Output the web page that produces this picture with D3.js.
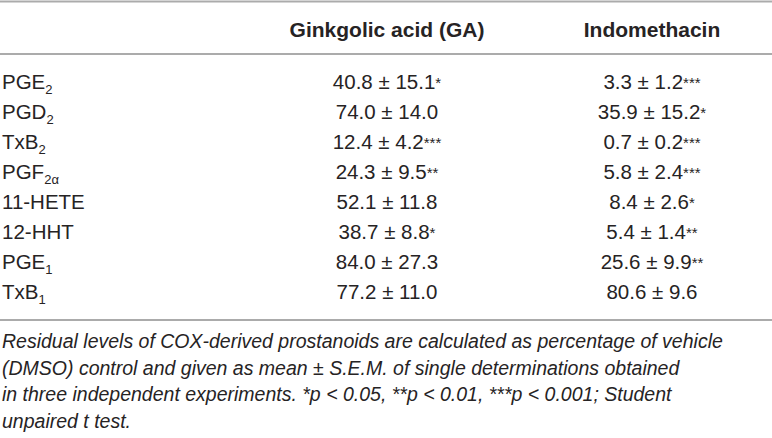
<!DOCTYPE html>
<html>
<head>
<meta charset="utf-8">
<script src="https://cdn.jsdelivr.net/npm/d3@7"></script>
<style>
  body { margin: 0; background: #fff; }
  svg text { font-family: "Liberation Sans", Arial, sans-serif; fill: #262324; }
</style>
</head>
<body>
<div id="table"></div>
<script>
// table content
let headers = ["Ginkgolic acid (GA)", "Indomethacin"];
let analytes = ["PGE", "PGD", "TxB", "PGF", "11-HETE", "12-HHT", "PGE", "TxB"];
let analyteSub = ["2", "2", "2", "2α", "", "", "1", "1"];

let gaMean = ["40.8", "74.0", "12.4", "24.3", "52.1", "38.7", "84.0", "77.2"];
let gaSem = ["15.1", "14.0", "4.2", "9.5", "11.8", "8.8", "27.3", "11.0"];
let gaSig = ["*", "", "***", "**", "", "*", "", ""];

let indoMean = ["3.3", "35.9", "0.7", "5.8", "8.4", "5.4", "25.6", "80.6"];
let indoSem = ["1.2", "15.2", "0.2", "2.4", "2.6", "1.4", "9.9", "9.6"];
let indoSig = ["***", "*", "***", "***", "*", "**", "**", ""];

let footnote = [
    "Residual levels of COX-derived prostanoids are calculated as percentage of vehicle",
    "(DMSO) control and given as mean ± S.E.M. of single determinations obtained",
    "in three independent experiments. *p < 0.05, **p < 0.01, ***p < 0.001; Student",
    "unpaired t test."
];

let width = 772, height = 438;

let svg = d3.select("#table").append("svg")
    .attr("width", width)
    .attr("height", height);

// column positions (label column left aligned, value columns centered)
let colX = d3.scalePoint()
    .domain(headers)
    .range([387, 652]);

let rowY = d3.scaleBand()
    .domain(d3.range(analytes.length))
    .range([67, 307]);

let footY = d3.scalePoint()
    .domain(d3.range(footnote.length))
    .range([348, 428]);

let ruleColor = "#ababab";

// horizontal rules
[1.5, 54, 320].forEach(y =>
    svg.append("line")
    .attr("x1", 0)
    .attr("x2", width)
    .attr("y1", y)
    .attr("y2", y)
    .attr("stroke", ruleColor)
    .attr("stroke-width", 2)
);

// header
svg.selectAll(".header")
    .data(headers)
    .join("text")
    .attr("class", "header")
    .attr("x", d => colX(d))
    .attr("y", 37)
    .attr("text-anchor", "middle")
    .attr("font-size", 21)
    .attr("font-weight", "bold")
    .text(d => d);

// row labels with subscripts
let labels = svg.selectAll(".label")
    .data(analytes)
    .join("text")
    .attr("class", "label")
    .attr("x", 2)
    .attr("y", (d, i) => rowY(i) + rowY.bandwidth() / 2 + 7)
    .attr("font-size", 20.5);

labels.append("tspan").text(d => d);
labels.append("tspan")
    .attr("font-size", 13)
    .attr("dy", 5)
    .text((d, i) => analyteSub[i]);

// value cells
function drawColumn(col, mean, sem, sig) {
    let cls = "cell-" + col.replace(/\W/g, "");
    let cells = svg.selectAll("." + cls)
        .data(mean)
        .join("text")
        .attr("class", cls)
        .attr("x", colX(col))
        .attr("y", (d, i) => rowY(i) + rowY.bandwidth() / 2 + 7)
        .attr("text-anchor", "middle")
        .attr("font-size", 20.5);

    cells.append("tspan").text((d, i) => d + " ± " + sem[i]);
    cells.append("tspan")
        .attr("font-size", 15)
        .attr("dy", -1)
        .text((d, i) => sig[i]);
}

drawColumn(headers[0], gaMean, gaSem, gaSig);
drawColumn(headers[1], indoMean, indoSem, indoSig);

// footnote
svg.selectAll(".foot")
    .data(footnote)
    .join("text")
    .attr("class", "foot")
    .attr("x", 2)
    .attr("y", (d, i) => footY(i))
    .attr("font-size", 19.5)
    .attr("font-style", "italic")
    .text(d => d);
</script>
</body>
</html>
